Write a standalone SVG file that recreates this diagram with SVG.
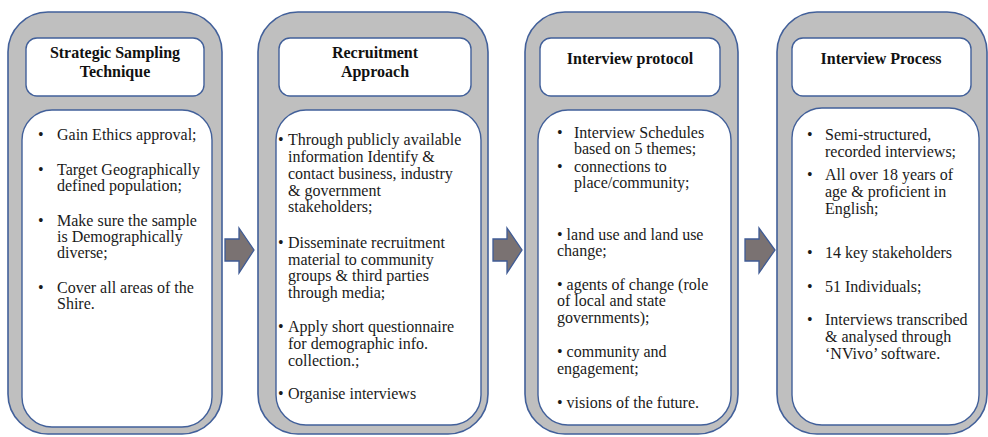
<svg xmlns="http://www.w3.org/2000/svg" width="988" height="437" viewBox="0 0 988 437">
<style>
.outer{fill:#bfbfbf;stroke:#42609a;stroke-width:1.6}
.head{fill:#ffffff;stroke:#42609a;stroke-width:1.4}
.body{fill:#ffffff;stroke:#42609a;stroke-width:1.4}
.arrow{fill:#7a7272;stroke:#3f5b95;stroke-width:1.3}
.t{font-family:"Liberation Serif","Times New Roman",serif;font-size:16px;fill:#1a1a1a}
.h{font-family:"Liberation Serif","Times New Roman",serif;font-size:16px;font-weight:bold;fill:#111111;text-anchor:middle}
</style>
<rect width="988" height="437" fill="#ffffff"/>

<g id="node1">
<rect class="outer" x="8" y="12" width="214" height="422" rx="40"/>
<rect class="head" x="26" y="38" width="178" height="58" rx="11"/>
<rect class="body" x="22" y="110" width="190" height="317" rx="30"/>
<text class="h" x="115" y="58">Strategic Sampling</text>
<text class="h" x="115" y="77">Technique</text>
<g class="t">
<text x="38" y="140">•</text><text x="57" y="140">Gain Ethics approval;</text>
<text x="38" y="175">•</text><text x="57" y="175">Target Geographically</text>
<text x="57" y="191">defined  population;</text>
<text x="38" y="226">•</text><text x="57" y="226">Make sure the sample</text>
<text x="57" y="242">is Demographically</text>
<text x="57" y="258">diverse;</text>
<text x="38" y="293">•</text><text x="57" y="293">Cover all areas of the</text>
<text x="57" y="309">Shire.</text>
</g>
</g>

<g id="node2">
<rect class="outer" x="258" y="12" width="230" height="422" rx="40"/>
<rect class="head" x="279" y="38" width="192" height="58" rx="11"/>
<rect class="body" x="276" y="110" width="205" height="315" rx="30"/>
<text class="h" x="375" y="58">Recruitment</text>
<text class="h" x="375" y="77">Approach</text>
<g class="t">
<text x="278" y="145">•</text><text x="288" y="145">Through publicly available</text>
<text x="288" y="162">information Identify &amp;</text>
<text x="288" y="179">contact business, industry</text>
<text x="288" y="196">&amp; government</text>
<text x="288" y="212">stakeholders;</text>
<text x="278" y="248">•</text><text x="288" y="248">Disseminate recruitment</text>
<text x="288" y="265">material to community</text>
<text x="288" y="281">groups  &amp; third parties</text>
<text x="288" y="298">through media;</text>
<text x="278" y="332">•</text><text x="288" y="332">Apply short questionnaire</text>
<text x="288" y="349">for demographic  info.</text>
<text x="288" y="366">collection.;</text>
<text x="278" y="399">•</text><text x="288" y="399">Organise interviews</text>
</g>
</g>

<g id="node3">
<rect class="outer" x="525" y="12" width="213" height="422" rx="40"/>
<rect class="head" x="540" y="38" width="180" height="58" rx="11"/>
<rect class="body" x="538" y="110" width="193" height="315" rx="30"/>
<text class="h" x="630" y="64">Interview protocol</text>
<g class="t">
<text x="557" y="138">•</text><text x="574" y="138">Interview Schedules</text>
<text x="574" y="154">based  on 5 themes;</text>
<text x="557" y="172">•</text><text x="574" y="172">connections  to</text>
<text x="574" y="188">place/community;</text>
<text x="557" y="240">• land use and land use</text>
<text x="557" y="256">change;</text>
<text x="557" y="290">• agents of change (role</text>
<text x="557" y="306">of local and state</text>
<text x="557" y="323">governments);</text>
<text x="557" y="357">• community and</text>
<text x="557" y="374">engagement;</text>
<text x="557" y="408">• visions of the future.</text>
</g>
</g>

<g id="node4">
<rect class="outer" x="777" y="12" width="210" height="422" rx="40"/>
<rect class="head" x="792" y="38" width="179" height="58" rx="11"/>
<rect class="body" x="792" y="108" width="187" height="317" rx="30"/>
<text class="h" x="881" y="64">Interview Process</text>
<g class="t">
<text x="807" y="140">•</text><text x="825" y="140">Semi-structured,</text>
<text x="825" y="157">recorded  interviews;</text>
<text x="807" y="180">•</text><text x="825" y="180">All over 18 years of</text>
<text x="825" y="197">age &amp; proficient  in</text>
<text x="825" y="214">English;</text>
<text x="807" y="258">•</text><text x="825" y="258">14 key stakeholders</text>
<text x="807" y="292">•</text><text x="825" y="292">51 Individuals;</text>
<text x="807" y="325">•</text><text x="825" y="325">Interviews  transcribed</text>
<text x="825" y="342">&amp; analysed  through</text>
<text x="825" y="359">‘NVivo’  software.</text>
</g>
</g>

<g id="connectors">
<path class="arrow" d="M225,239 H239 V228 L254,250 L239,273 V261 H225 Z"/>
<path class="arrow" d="M493,239 H507 V228 L522,250 L507,273 V261 H493 Z"/>
<path class="arrow" d="M745,239 H759 V228 L775,250 L759,273 V261 H745 Z"/>
</g>
</svg>
